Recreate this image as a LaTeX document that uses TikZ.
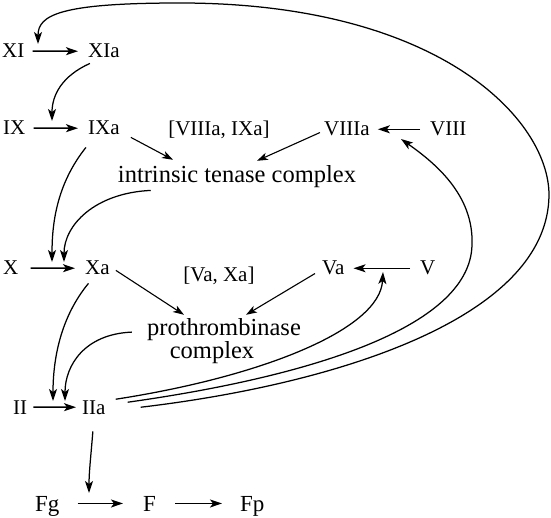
\documentclass[tikz,border=0pt]{standalone}
\usepackage{fontspec}
\setmainfont{Liberation Serif}
\usetikzlibrary{arrows.meta}
\begin{document}
\begin{tikzpicture}[x=1pt,y=-1pt,
  lab/.style={font=\fontsize{21}{23}\selectfont, inner sep=0pt, anchor=base west},
  big/.style={font=\fontsize{24.5}{26}\selectfont, inner sep=0pt, anchor=base},
  fr/.style={font=\fontsize{23}{25}\selectfont, inner sep=0pt, anchor=base west},
  arr/.style={line width=1.5pt, -{Stealth[length=12pt,width=8pt,inset=3pt]}},
  thin/.style={line width=1.1pt, -{Stealth[length=11pt,width=7.5pt,inset=3pt]}},
  crv/.style={line width=1.25pt, -{Stealth[length=12pt,width=8pt,inset=3pt]}}]
\useasboundingbox (0,0) rectangle (551,518);
% nodes
\node[lab] (XI) at (2,58) {XI};
\node[lab] (XIa) at (88,58) {XIa};
\node[lab] (IX) at (3,135) {IX};
\node[lab] (IXa) at (88,135) {IXa};
\node[lab,anchor=base] (vix) at (219,136) {[VIIIa, IXa]};
\node[lab] (VIIIa) at (324,136) {VIIIa};
\node[lab] (VIII) at (430,136) {VIII};
\node[big] (ten) at (237,183) {intrinsic tenase complex};
\node[lab] (X) at (3,275) {X};
\node[lab] (Xa) at (85,275) {Xa};
\node[lab,anchor=base] (vx) at (219,282) {[Va, Xa]};
\node[lab] (Va) at (322,275) {Va};
\node[lab] (V) at (420,275) {V};
\node[big] (pro) at (224,335) {prothrombinase};
\node[big] (pro2) at (212,358) {complex};
\node[lab] (II) at (13,414) {II};
\node[lab] (IIa) at (82,414) {IIa};
\node[fr] (Fg) at (35,511) {Fg};
\node[fr] (F) at (143,511) {F};
\node[fr] (Fp) at (240,511) {Fp};
% arrow tips (free ends)
\coordinate (t1) at (38,44);
\coordinate (t2) at (52,121);
\coordinate (t3) at (52,262);
\coordinate (t4) at (64,262);
\coordinate (t5) at (53,401);
\coordinate (t6) at (65,401);
\coordinate (t7) at (383,272);
\coordinate (t8) at (401,139);
\coordinate (t9) at (89,493);
% horizontal arrows
\draw[arr] ([xshift=8pt]XI.east |- XI.center) -- ([xshift=-10pt]XIa.west |- XIa.center);
\draw[arr] ([xshift=8pt]IX.east |- IX.center) -- ([xshift=-10pt]IXa.west |- IXa.center);
\draw[arr] ([xshift=-10pt]VIII.west |- VIII.center) -- ([xshift=8pt]VIIIa.east |- VIIIa.center);
\draw[arr] ([xshift=12pt]X.east |- X.center) -- ([xshift=-10pt]Xa.west |- Xa.center);
\draw[arr] ([xshift=-10pt]V.west |- V.center) -- ([xshift=9pt]Va.east |- Va.center);
\draw[arr] ([xshift=6pt]II.east |- II.center) -- ([xshift=-6pt]IIa.west |- IIa.center);
\draw[arr] ([xshift=18pt]Fg.east |- F.center) -- ([xshift=-20pt]F.west |- F.center);
\draw[arr] ([xshift=19pt]F.east |- F.center) -- ([xshift=-18pt]Fp.west |- F.center);
% straight arrows to complexes
\draw[thin] ([shift={(11,2)}]IXa.south east) -- ([shift={(-64,-6)}]ten.north);
\draw[thin] ([shift={(-4,-4)}]VIIIa.south west) -- ([shift={(20,-5)}]ten.north);
\draw[thin] ([shift={(6,-5)}]Xa.south east) -- ([shift={(-40,-3)}]pro.north);
\draw[thin] ([shift={(-7,-2)}]Va.south west) -- ([shift={(22,-3)}]pro.north);
% left curves
\draw[crv] ([shift={(-14,5)}]XIa.south) .. controls (62,76) and (52,95) .. (t2);
\draw[crv] ([shift={(-18,12)}]IXa.south) .. controls (56,185) and (52,225) .. (t3);
\draw[crv] ([shift={(33,2)}]ten.south west) .. controls (95,193) and (64,225) .. (t4);
\draw[crv] ([shift={(-9,8)}]Xa.south) .. controls (60,318) and (53,360) .. (t5);
\draw[crv] ([shift={(-15,3)}]pro.west) .. controls (85,334) and (65,365) .. (t6);
\draw[crv] ([shift={(-1,17)}]IIa.south) .. controls (91,455) and (89,472) .. (t9);
% long curves from IIa
\draw[crv] ([shift={(10,-8)}]IIa.east) .. controls (260,377) and (380,330) .. (t7);
\draw[crv] ([shift={(22,-5)}]IIa.east) .. controls (300,378) and (470,330) .. (472,245) .. controls (474,195) and (435,163) .. (t8);
\draw[crv] ([shift={(35,0)}]IIa.east) .. controls (330,385) and (548,320) .. (549,195) .. controls (549,120) and (440,3) .. (180,3) .. controls (60,3) and (38,15) .. (t1);
\end{tikzpicture}
\end{document}
